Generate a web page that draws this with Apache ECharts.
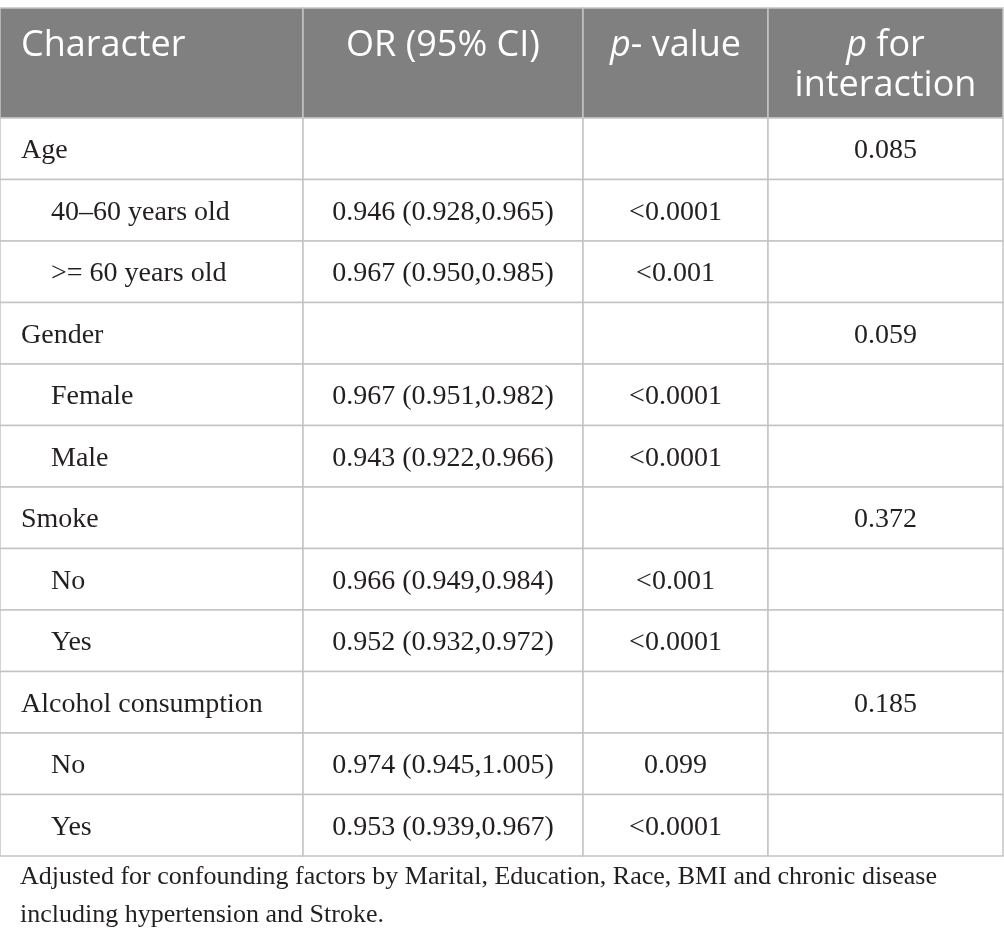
<!DOCTYPE html>
<html>
<head>
<meta charset="utf-8">
<script src="https://cdn.jsdelivr.net/npm/echarts@6/dist/echarts.min.js"></script>
<style>
html,body{margin:0;padding:0;background:#fff;}
#main{width:1004px;height:949px;}
</style>
</head>
<body>
<div id="main"></div>
<script>
// ---- data ----
const headers = ['Character', 'OR (95% CI)', '{i|p}- value', '{i|p} for\ninteraction'];
const characters = ['Age', '40–60 years old', '>= 60 years old', 'Gender', 'Female', 'Male',
  'Smoke', 'No', 'Yes', 'Alcohol consumption', 'No', 'Yes'];
const subgroupLevel = [0, 1, 1, 0, 1, 1, 0, 1, 1, 0, 1, 1];
const orCI = ['', '0.946 (0.928,0.965)', '0.967 (0.950,0.985)', '', '0.967 (0.951,0.982)', '0.943 (0.922,0.966)',
  '', '0.966 (0.949,0.984)', '0.952 (0.932,0.972)', '', '0.974 (0.945,1.005)', '0.953 (0.939,0.967)'];
const pValues = ['', '<0.0001', '<0.001', '', '<0.0001', '<0.0001', '', '<0.001', '<0.0001', '', '0.099', '<0.0001'];
const pInteraction = ['0.085', '', '', '0.059', '', '', '0.372', '', '', '0.185', '', ''];
const footnote = 'Adjusted for confounding factors by Marital, Education, Race, BMI and chronic disease\nincluding hypertension and Stroke.';

// ---- layout ----
const colEdges = [0, 303, 583, 768, 1003];
const columns = [characters, orCI, pValues, pInteraction];
const rowIdx = characters.map((_, i) => i);

const headerCells = headers.map((_, c) => [c, 0]);
const bodyCells = [];
rowIdx.forEach(r => { for (let c = 0; c < 4; c++) bodyCells.push([c, r]); });

const serif = '"Liberation Serif", "DejaVu Serif", serif';
const sans = '"Open Sans", "Noto Sans", sans-serif';
const borderColor = '#c3c3c3';

function cellRect(api, c, r) {
  const x0 = api.coord([colEdges[c], r])[0];
  const x1 = api.coord([colEdges[c + 1], r])[0];
  const yc = api.coord([0, r])[1];
  const h = api.size([0, 1])[1];
  return { x0, x1, y0: yc - h / 2, h, yc };
}

const chart = echarts.init(document.getElementById('main'), null, { renderer: 'canvas' });
chart.setOption({
  backgroundColor: '#ffffff',
  animation: false,
  title: {
    text: footnote,
    left: 20,
    top: 858,
    padding: 0,
    textStyle: { fontFamily: serif, fontSize: 26, fontWeight: 'normal', color: '#231f20', lineHeight: 38 }
  },
  grid: [
    { left: 0, top: 8, width: 1003, height: 110 },
    { left: 0, top: 118, width: 1003, height: 738 }
  ],
  xAxis: [
    { type: 'value', gridIndex: 0, min: 0, max: 1003, show: false },
    { type: 'value', gridIndex: 1, min: 0, max: 1003, show: false }
  ],
  yAxis: [
    { type: 'category', gridIndex: 0, data: ['header'], show: false },
    { type: 'category', gridIndex: 1, data: rowIdx.map(String), inverse: true, show: false }
  ],
  series: [
    {
      type: 'custom',
      xAxisIndex: 0, yAxisIndex: 0,
      clip: false,
      data: headerCells,
      renderItem: function (params, api) {
        const c = api.value(0), r = api.value(1);
        const g = cellRect(api, c, r);
        const isLeft = c === 0;
        return {
          type: 'group',
          children: [
            { type: 'rect', shape: { x: g.x0, y: g.y0, width: g.x1 - g.x0, height: g.h },
              style: { fill: '#808080', stroke: borderColor, lineWidth: 1.5 } },
            { type: 'text', style: {
                text: headers[params.dataIndex],
                x: isLeft ? g.x0 + 21 : (g.x0 + g.x1) / 2,
                y: g.y0 + 18,
                align: isLeft ? 'left' : 'center',
                verticalAlign: 'top',
                fontFamily: sans, fontSize: 36, fontWeight: 400, lineHeight: 40,
                fill: '#ffffff',
                rich: { i: { fontStyle: 'italic', fontFamily: sans, fontSize: 36, fontWeight: 400, lineHeight: 40, fill: '#ffffff' } }
              } }
          ]
        };
      }
    },
    {
      type: 'custom',
      xAxisIndex: 1, yAxisIndex: 1,
      clip: false,
      data: bodyCells,
      renderItem: function (params, api) {
        const c = api.value(0), r = api.value(1);
        const g = cellRect(api, c, r);
        const isLeft = c === 0;
        const indent = isLeft ? 21 + subgroupLevel[r] * 30 : 0;
        return {
          type: 'group',
          children: [
            { type: 'rect', shape: { x: g.x0, y: g.y0, width: g.x1 - g.x0, height: g.h },
              style: { fill: '#ffffff', stroke: borderColor, lineWidth: 1.5 } },
            { type: 'text', style: {
                text: columns[c][r],
                x: isLeft ? g.x0 + indent : (g.x0 + g.x1) / 2,
                y: g.yc + 2,
                align: isLeft ? 'left' : 'center',
                verticalAlign: 'middle',
                fontFamily: serif, fontSize: 28,
                fill: '#231f20'
              } }
          ]
        };
      }
    }
  ]
});
</script>
</body>
</html>
